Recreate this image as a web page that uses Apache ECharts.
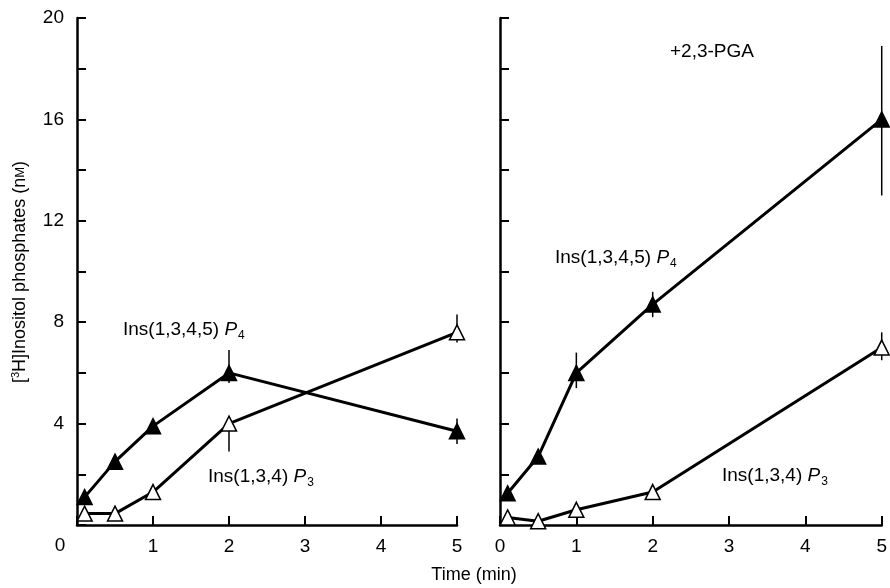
<!DOCTYPE html><html><head><meta charset="utf-8">
<script src="https://cdn.jsdelivr.net/npm/echarts@6/dist/echarts.min.js"></script>
<style>html,body{margin:0;background:#fff}#c{width:890px;height:588px}</style></head><body><div id="c"></div>
<script>
const times=[0.1,0.5,1,2,5];
const leftP4=[1.1,2.5,3.9,6.0,3.7];
const leftP4Err=[[1.0,1.2],[2.4,2.6],[3.6,4.1],[5.6,6.9],[3.2,4.2]];
const leftP3=[0.45,0.45,1.3,4.0,7.6];
const leftP3Err=[[0.4,0.5],[0.4,0.5],[1.0,1.4],[2.9,4.1],[7.2,8.3]];
const rightP4=[1.25,2.7,6.0,8.7,16.0];
const rightP4Err=[[1.1,1.4],[2.5,2.9],[5.4,6.8],[8.2,9.2],[13.0,18.9]];
const rightP3=[0.3,0.15,0.6,1.3,7.0];
const rightP3Err=[[0.2,0.4],[0.1,0.2],[0.5,0.7],[1.2,1.4],[6.5,7.6]];
const xTicks=[0,1,2,3,4,5];
const yTicks=[0,4,8,12,16,20];
const F='Liberation Sans';
function pairs(v){return times.map((t,i)=>[t,v[i]]);}
function errSeries(err,idx){
  return {type:'custom',xAxisIndex:idx,yAxisIndex:idx,z:1,clip:false,
    data:times.map((t,i)=>[t,err[i][0],err[i][1]]),
    renderItem:(p,api)=>{const a=api.coord([api.value(0),api.value(1)]),b=api.coord([api.value(0),api.value(2)]);
      return {type:'line',shape:{x1:a[0],y1:a[1],x2:b[0],y2:b[1]},style:{stroke:'#000',lineWidth:1.5}};}};
}
function line(v,idx,filled){
  return {type:'line',xAxisIndex:idx,yAxisIndex:idx,data:pairs(v),symbol:'triangle',symbolSize:15,z:3,
    lineStyle:{color:'#000',width:3},itemStyle:{color:filled?'#000':'#fff',borderColor:'#000',borderWidth:1.5},clip:false};
}
function xAx(idx,showZero){return {type:'value',gridIndex:idx,min:0,max:5,interval:1,
  axisLine:{lineStyle:{color:'#000',width:2.5}},axisTick:{inside:true,length:9,lineStyle:{width:2}},splitLine:{show:false},
  axisLabel:{color:'#000',fontSize:19,fontFamily:F,margin:12,formatter:v=>(v===0&&!showZero)?'':String(v)}};}
function yAx(idx,labels){return {type:'value',gridIndex:idx,min:0,max:20,interval:4,
  axisLine:{show:true,lineStyle:{color:'#000',width:2.5}},axisTick:{inside:true,length:9,lineStyle:{width:2}},
  minorTick:{show:true,splitNumber:2,length:9,lineStyle:{color:'#000',width:2}},splitLine:{show:false},
  axisLabel:{show:labels,color:'#000',fontSize:19,fontFamily:F,margin:13,formatter:v=>v===0?'':String(v)}};}
const T={fontSize:19,fontFamily:F,fill:'#000'};
function lbl(x,y,n,sub){return {type:'text',left:x,top:y,style:{text:'{a|Ins(1,3,'+n+')}{b| P}{c|'+sub+'}',
  rich:{a:T,b:Object.assign({},T,{fontStyle:'italic'}),c:{fontSize:12,fontFamily:F,fill:'#000',padding:[12,0,0,1]}}}};}
const chart=echarts.init(document.getElementById('c'));
chart.setOption({animation:false,
  grid:[{left:77,right:433,top:18,bottom:63},{left:500,right:3,top:18,bottom:63}],
  xAxis:[xAx(0,false),xAx(1,true)],yAxis:[yAx(0,true),yAx(1,false)],
  series:[errSeries(leftP4Err,0),errSeries(leftP3Err,0),errSeries(rightP4Err,1),errSeries(rightP3Err,1),
    line(leftP4,0,true),line(leftP3,0,false),line(rightP4,1,true),line(rightP3,1,false)],
  graphic:[
    {type:'text',x:60,y:546,style:{text:'0',fontSize:19,fontFamily:F,fill:'#000',align:'center',verticalAlign:'middle'}},
    {type:'text',x:474,y:575,style:{text:'Time (min)',fontSize:18,fontFamily:F,fill:'#000',align:'center',verticalAlign:'middle'}},
    {type:'text',x:712,y:52,style:{text:'+2,3-PGA',fontSize:19,fontFamily:F,fill:'#000',align:'center',verticalAlign:'middle'}},
    {type:'text',x:20,y:272,rotation:Math.PI/2,style:{text:'{s|[}{u|3}{s|H]Inositol phosphates (n}{m|M}{s|)}',align:'center',verticalAlign:'middle',
      rich:{s:{fontSize:18,fontFamily:F,fill:'#000'},u:{fontSize:11,fontFamily:F,fill:'#000',padding:[0,0,9,0]},m:{fontSize:13,fontFamily:F,fill:'#000'}}}},
    lbl(123,320,'4,5','4'),lbl(208,467,'4','3'),lbl(555,248,'4,5','4'),lbl(722,466,'4','3')
  ]});
</script></body></html>
